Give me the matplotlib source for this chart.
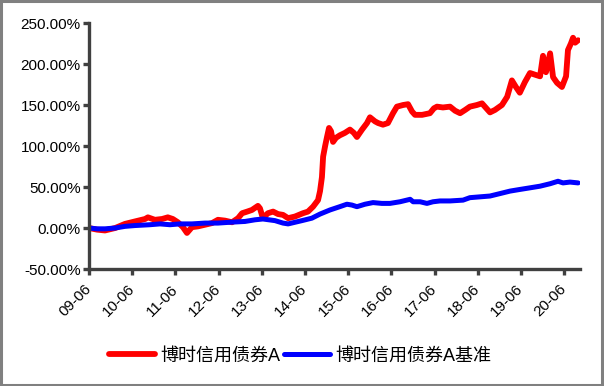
import numpy as np
import pandas as pd
import matplotlib
matplotlib.use('Agg')
import matplotlib.pyplot as plt
import matplotlib.dates as mdates
from matplotlib.patches import Rectangle
from matplotlib.ticker import FuncFormatter

plt.rcParams['font.family'] = ['Liberation Sans', 'Noto Sans CJK SC', 'DejaVu Sans']

# fund cumulative return (%)
fund_dates = [
    '2009-06-01', '2009-08-08', '2009-10-14', '2010-01-08', '2010-04-01', '2010-06-24',
    '2010-09-18', '2010-10-12', '2010-12-10', '2011-02-09', '2011-03-29', '2011-05-10',
    '2011-06-22', '2011-08-04', '2011-09-07', '2011-10-19', '2011-12-09', '2012-02-07',
    '2012-04-06', '2012-05-26', '2012-07-24', '2012-09-22', '2012-11-12', '2012-12-16',
    '2013-01-28', '2013-03-09', '2013-04-29', '2013-05-16', '2013-06-10', '2013-07-22',
    '2013-09-04', '2013-10-16', '2013-11-27', '2014-01-09', '2014-03-08', '2014-05-14',
    '2014-06-26', '2014-08-08', '2014-09-19', '2014-10-06', '2014-10-22', '2014-11-01',
    '2014-11-18', '2014-12-04', '2014-12-21', '2015-01-07', '2015-01-24', '2015-02-18',
    '2015-03-22', '2015-05-04', '2015-06-16', '2015-07-19', '2015-08-14', '2015-09-26',
    '2015-11-07', '2015-12-02', '2016-01-14', '2016-02-09', '2016-03-21', '2016-05-02',
    '2016-06-14', '2016-07-17', '2016-09-07', '2016-10-19', '2016-11-22', '2016-12-17',
    '2017-02-15', '2017-04-22', '2017-05-26', '2017-06-21', '2017-08-10', '2017-10-09',
    '2017-11-21', '2018-01-02', '2018-02-14', '2018-03-26', '2018-05-24', '2018-07-06',
    '2018-08-18', '2018-09-12', '2018-10-24', '2018-12-22', '2019-02-04', '2019-03-16',
    '2019-04-19', '2019-05-22', '2019-07-04', '2019-08-16', '2019-09-27', '2019-11-09',
    '2019-12-04', '2019-12-29', '2020-02-02', '2020-02-27', '2020-04-01', '2020-05-12',
    '2020-06-16', '2020-07-02', '2020-07-27', '2020-08-14', '2020-09-01', '2020-09-26',
]
fund_values = [
    0, -2, -3, 0, 5, 8,
    11, 13, 10, 11, 13, 11,
    7, 1, -6, 1, 2, 4,
    6, 10, 9, 7, 12, 18,
    20, 22, 27, 24, 12, 18,
    20, 17, 16, 12, 14, 18,
    20, 26, 34, 45, 62, 87,
    100, 111, 122, 118, 105, 110,
    113, 116, 120, 116, 111, 120,
    128, 135, 130, 128, 126, 128,
    140, 148, 150, 151, 142, 138,
    138, 140, 146, 148, 147, 148,
    143, 140, 144, 148, 150, 152,
    145, 141, 144, 150, 160, 180,
    172, 165, 178, 189, 187, 185,
    210, 190, 213, 184, 177, 172,
    185, 217, 225, 232, 226, 229,
]

# benchmark cumulative return (%)
bench_dates = [
    '2009-06-01', '2009-08-08', '2009-10-14', '2010-01-08', '2010-04-01', '2010-06-24',
    '2010-10-28', '2011-01-22', '2011-04-16', '2011-07-09', '2011-10-19', '2012-02-07',
    '2012-05-26', '2012-09-05', '2013-01-10', '2013-04-04', '2013-06-10', '2013-09-20',
    '2013-11-27', '2014-01-09', '2014-05-06', '2014-07-29', '2014-10-06', '2014-12-29',
    '2015-03-22', '2015-05-21', '2015-07-02', '2015-08-14', '2015-10-21', '2015-12-28',
    '2016-03-12', '2016-05-19', '2016-08-12', '2016-11-06', '2016-12-01', '2017-01-29',
    '2017-03-28', '2017-05-18', '2017-07-16', '2017-10-09', '2018-01-27', '2018-03-26',
    '2018-06-19', '2018-09-12', '2018-12-06', '2019-02-28', '2019-05-22', '2019-08-16',
    '2019-11-09', '2020-02-02', '2020-04-09', '2020-05-21', '2020-07-19', '2020-09-26',
]
bench_values = [
    0, -1, -1, 0, 2, 3,
    4, 5, 4, 5, 5, 6,
    6, 7, 8, 10, 11, 9,
    6, 5, 9, 12, 17, 22,
    26, 29, 28, 26, 29, 31,
    30, 30, 32, 35, 32, 32,
    30, 32, 33, 33, 34, 37,
    38, 39, 42, 45, 47, 49,
    51, 54, 57, 55, 56, 55,
]

tick_years = list(range(2009, 2021))

fig = plt.figure(figsize=(6.04, 3.86), dpi=100)
ax = fig.add_axes([0.1474, 0.3031, 0.8129, 0.6373])

ax.plot(pd.to_datetime(fund_dates), fund_values, color='#ff0000', lw=4.2,
        solid_joinstyle='round', solid_capstyle='round', label='博时信用债券A')
ax.plot(pd.to_datetime(bench_dates), bench_values, color='#0000ff', lw=3.6,
        solid_joinstyle='round', solid_capstyle='round', label='博时信用债券A基准')

ax.set_ylim(-50, 250)
ax.set_yticks(np.arange(-50, 251, 50))
ax.yaxis.set_major_formatter(FuncFormatter(lambda v, p: f'{v:.2f}%'))
ax.set_xlim(pd.Timestamp('2009-06-01'), pd.Timestamp('2020-10-12'))
ax.set_xticks(pd.to_datetime([f'{y}-06-01' for y in tick_years]))
ax.xaxis.set_major_formatter(mdates.DateFormatter('%y-%m'))

for s in ['top', 'right']:
    ax.spines[s].set_visible(False)
for s in ['left', 'bottom']:
    ax.spines[s].set_color('#404040')
    ax.spines[s].set_linewidth(2.4)
ax.tick_params(axis='both', colors='#404040', width=2.4, length=4,
               labelsize=11, labelcolor='black', pad=2)
ax.tick_params(axis='x', pad=9)
for lab in ax.get_xticklabels():
    lab.set_rotation(45)
    lab.set_ha('right')
    lab.set_va('center')
    lab.set_rotation_mode('anchor')

leg = fig.legend(loc='center', bbox_to_anchor=(0.497, 0.078), ncol=2, frameon=False,
                 fontsize=13, handlelength=2.5, handletextpad=0.3, columnspacing=0.25)

# grey frame around the whole figure
fig.patches.append(Rectangle((0.002, 0.003), 0.995, 0.994, transform=fig.transFigure,
                             fill=False, edgecolor='#808080', lw=2.2))

fig.savefig('out.png', dpi=100)
